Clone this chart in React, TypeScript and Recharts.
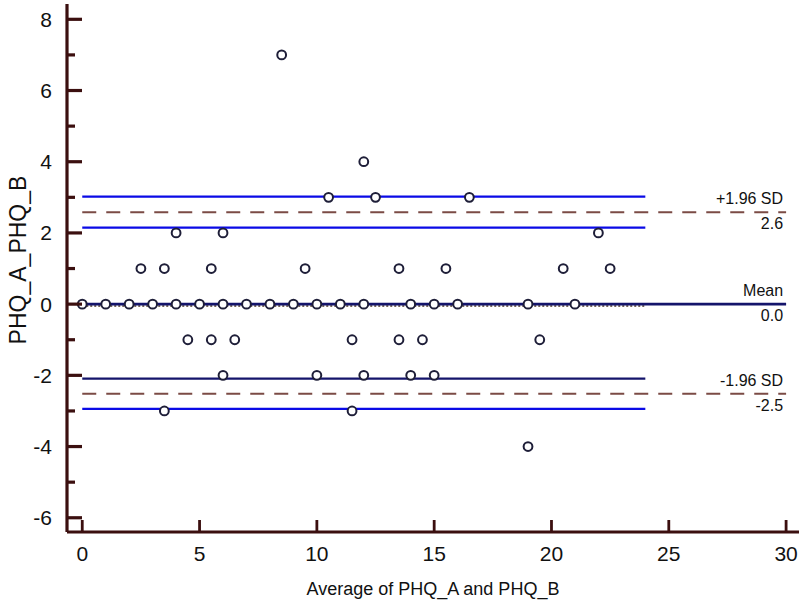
import { ScatterChart, Scatter, XAxis, YAxis, ReferenceLine, Label } from "recharts";

// Bland-Altman plot: average of PHQ_A and PHQ_B against their difference
const avgScores = [
  8.5,
  12,
  10.5, 12.5, 16.5,
  4, 6, 22,
  2.5, 3.5, 5.5, 9.5, 13.5, 15.5, 20.5, 22.5,
  0, 1, 2, 3, 4, 5, 6, 7, 8, 9, 10, 11, 12, 14, 15, 16, 19, 21,
  4.5, 5.5, 6.5, 11.5, 13.5, 14.5, 19.5,
  6, 10, 12, 14, 15,
  3.5, 11.5,
  19,
];
const diffScores = [
  7,
  4,
  3, 3, 3,
  2, 2, 2,
  1, 1, 1, 1, 1, 1, 1, 1,
  0, 0, 0, 0, 0, 0, 0, 0, 0, 0, 0, 0, 0, 0, 0, 0, 0, 0,
  -1, -1, -1, -1, -1, -1, -1,
  -2, -2, -2, -2, -2,
  -3, -3,
  -4,
];

const meanDiff = 0.0;
const meanDotted = -0.05;
const upperLimit = 2.58;
const lowerLimit = -2.52;
const upperLimitCI = [2.15, 3.02];
const lowerLimitCI = [-2.94, -2.09];
const lineStart = 0;
const lineEnd = 30;
const ciEnd = 24;

const xTicks = [0, 5, 10, 15, 20, 25, 30];
const yTicks = [-6, -5, -4, -3, -2, -1, 0, 1, 2, 3, 4, 5, 6, 7, 8];

const points = avgScores.map((x, i) => ({ x, y: diffScores[i] }));

const FRAME = "#3b0f0f";
const BLUE = "#0a0ae6";
const NAVY = "#14146b";
const DASH = "#7b4b45";
const FONT = "'Liberation Sans', Arial, sans-serif";

const YTick = (props: any) => {
  const { x, y, payload } = props;
  const major = payload.value % 2 === 0;
  return (
    <g>
      <line x1={x} x2={x + (major ? 15 : 8)} y1={y} y2={y} stroke={FRAME} strokeWidth={3.2} />
      {major && (
        <text x={x - 15} y={y} dy="0.36em" textAnchor="end" fontSize={21} fill="#111" fontFamily={FONT}>
          {payload.value}
        </text>
      )}
    </g>
  );
};

const XTick = (props: any) => {
  const { x, y, payload } = props;
  return (
    <g>
      <line x1={x} x2={x} y1={y} y2={y - 12} stroke={FRAME} strokeWidth={2.8} />
      <text x={x} y={y + 21} dy="0.36em" textAnchor="middle" fontSize={21} fill="#111" fontFamily={FONT}>
        {payload.value}
      </text>
    </g>
  );
};

const endLabel = (above: string, below: string) => (props: any) => {
  const { x, y, width } = props.viewBox;
  const right = x + width - 3;
  return (
    <g fontFamily={FONT} fontSize={16} fill="#111">
      <text x={right} y={y - 8} textAnchor="end">{above}</text>
      <text x={right} y={y + 17} textAnchor="end">{below}</text>
    </g>
  );
};

const OpenCircle = (props: any) => (
  <circle cx={props.cx} cy={props.cy} r={4.4} fill="#fff" stroke="#1e1e38" strokeWidth={2} />
);

const seg = (y: number, x2: number) => [
  { x: lineStart, y },
  { x: x2, y },
];

const frameLine = { stroke: FRAME, strokeWidth: 3.2 };

export default function App() {
  return (
    <div style={{ position: "absolute", left: 0, top: 0, background: "#fff" }}>
      <ScatterChart width={807} height={612} margin={{ top: 4, right: 8, bottom: 0, left: 0 }}>
        <XAxis
          type="number"
          dataKey="x"
          domain={[-0.65, 30.55]}
          ticks={xTicks}
          interval={0}
          height={80}
          tickSize={0}
          tickMargin={0}
          tickLine={false}
          tick={XTick}
          stroke={FRAME}
          axisLine={frameLine}
        >
          <Label
            value="Average of PHQ_A and PHQ_B"
            position="insideBottom"
            offset={17}
            style={{ fontSize: 18, fill: "#111", fontFamily: FONT }}
          />
        </XAxis>
        <XAxis
          xAxisId="top"
          orientation="top"
          type="number"
          domain={[-0.65, 30.55]}
          height={0}
          tick={false}
          tickLine={false}
          stroke={FRAME}
          axisLine={frameLine}
        />
        <YAxis
          type="number"
          dataKey="y"
          domain={[-6.4, 8.43]}
          ticks={yTicks}
          interval={0}
          width={67}
          tickSize={0}
          tickMargin={0}
          tickLine={false}
          tick={YTick}
          stroke={FRAME}
          axisLine={frameLine}
        >
          <Label
            value="PHQ_A_PHQ_B"
            angle={-90}
            position="insideLeft"
            offset={18}
            dy={-8}
            style={{ fontSize: 23, fill: "#111", fontFamily: FONT, textAnchor: "middle" }}
          />
        </YAxis>
        <YAxis
          yAxisId="right"
          orientation="right"
          type="number"
          domain={[-6.4, 8.43]}
          width={0}
          tick={false}
          tickLine={false}
          stroke={FRAME}
          axisLine={frameLine}
        />

        <ReferenceLine segment={seg(upperLimitCI[1], ciEnd)} stroke={BLUE} strokeWidth={2.2} />
        <ReferenceLine segment={seg(upperLimitCI[0], ciEnd)} stroke={BLUE} strokeWidth={2.2} />
        <ReferenceLine
          segment={seg(upperLimit, lineEnd)}
          stroke={DASH}
          strokeWidth={2}
          strokeDasharray="14 10"
          label={endLabel("+1.96 SD", upperLimit.toFixed(1))}
        />
        <ReferenceLine segment={seg(meanDotted, ciEnd)} stroke="#4a3520" strokeWidth={1.5} strokeDasharray="2 2" />
        <ReferenceLine
          segment={seg(meanDiff, lineEnd)}
          stroke={NAVY}
          strokeWidth={2.6}
          label={endLabel("Mean", meanDiff.toFixed(1))}
        />
        <ReferenceLine segment={seg(lowerLimitCI[1], ciEnd)} stroke={NAVY} strokeWidth={2.2} />
        <ReferenceLine
          segment={seg(lowerLimit, lineEnd)}
          stroke={DASH}
          strokeWidth={2}
          strokeDasharray="14 10"
          label={endLabel("-1.96 SD", lowerLimit.toFixed(1))}
        />
        <ReferenceLine segment={seg(lowerLimitCI[0], ciEnd)} stroke={BLUE} strokeWidth={2.2} />

        <Scatter data={points} shape={OpenCircle} isAnimationActive={false} />
      </ScatterChart>
    </div>
  );
}
